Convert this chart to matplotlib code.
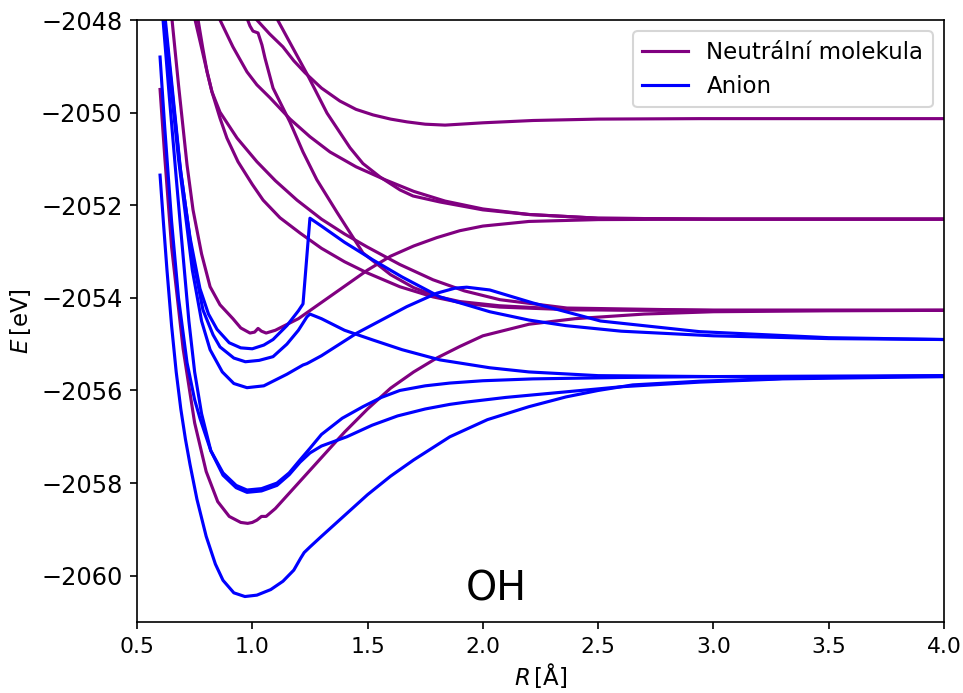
import matplotlib
matplotlib.use("Agg")
import matplotlib.pyplot as plt

# ---------------- neutral molecule (purple) ----------------
N1_R = [0.60,0.621,0.65,0.70,0.75,0.80,0.85,0.90,0.95,0.98,1.00,1.02,1.04,1.06,1.10,1.20,1.30,1.40,1.50,1.60,1.70,1.80,1.90,2.00,2.20,2.40,2.70,3.00,3.50,4.00]
N1_E = [-2049.5,-2051.0,-2052.9,-2055.1,-2056.7,-2057.75,-2058.4,-2058.72,-2058.85,-2058.87,-2058.85,-2058.8,-2058.72,-2058.72,-2058.55,-2058.0,-2057.45,-2056.9,-2056.4,-2055.95,-2055.6,-2055.3,-2055.05,-2054.82,-2054.57,-2054.45,-2054.35,-2054.3,-2054.28,-2054.27]

N2_R = [0.652,0.68,0.717,0.743,0.78,0.817,0.86,0.916,0.95,0.99,1.01,1.025,1.04,1.06,1.10,1.20,1.30,1.40,1.50,1.60,1.70,1.80,1.90,2.00,2.20,2.50,3.00,4.00]
N2_E = [-2048.0,-2049.4,-2051.13,-2052.1,-2053.05,-2053.76,-2054.15,-2054.45,-2054.65,-2054.76,-2054.74,-2054.66,-2054.72,-2054.76,-2054.7,-2054.45,-2054.1,-2053.75,-2053.4,-2053.1,-2052.88,-2052.7,-2052.55,-2052.45,-2052.35,-2052.31,-2052.3,-2052.3]

N3_R = [0.752,0.78,0.804,0.825,0.86,0.89,0.938,1.0,1.047,1.12,1.207,1.30,1.40,1.498,1.64,1.784,1.92,2.074,2.4,3.0,4.0]
N3_E = [-2048.0,-2048.6,-2049.12,-2049.55,-2050.12,-2050.55,-2051.06,-2051.55,-2051.89,-2052.27,-2052.6,-2052.93,-2053.22,-2053.46,-2053.76,-2053.98,-2054.12,-2054.2,-2054.26,-2054.27,-2054.27]

N4_R = [0.765,0.785,0.804,0.825,0.86,0.934,1.02,1.10,1.194,1.30,1.40,1.498,1.64,1.784,1.92,2.074,2.365,3.0,4.0]
N4_E = [-2048.0,-2048.6,-2049.12,-2049.55,-2049.99,-2050.55,-2051.06,-2051.47,-2051.89,-2052.3,-2052.62,-2052.9,-2053.28,-2053.61,-2053.85,-2054.04,-2054.22,-2054.27,-2054.27]

N5_R = [0.86,0.916,0.977,1.02,1.077,1.164,1.25,1.337,1.45,1.576,1.70,1.836,2.0,2.2,2.5,3.0,4.0]
N5_E = [-2048.0,-2048.58,-2049.12,-2049.4,-2049.68,-2050.14,-2050.52,-2050.85,-2051.17,-2051.45,-2051.7,-2051.91,-2052.08,-2052.2,-2052.28,-2052.3,-2052.3]

N6_R = [0.98,0.99,1.003,1.025,1.042,1.055,1.09,1.163,1.22,1.28,1.367,1.48,1.60,1.70,1.80,1.90,2.07,2.3,2.6,3.0,4.0]
N6_E = [-2048.0,-2048.13,-2048.24,-2048.28,-2048.54,-2048.82,-2049.47,-2050.2,-2050.85,-2051.45,-2052.15,-2053.03,-2053.5,-2053.78,-2053.97,-2054.08,-2054.17,-2054.23,-2054.26,-2054.27,-2054.27]

N7_R = [1.11,1.17,1.24,1.324,1.424,1.48,1.554,1.641,1.697,1.814,2.0,2.2,2.5,3.0,4.0]
N7_E = [-2048.0,-2048.55,-2049.19,-2050.01,-2050.76,-2051.1,-2051.39,-2051.67,-2051.8,-2051.93,-2052.1,-2052.2,-2052.28,-2052.3,-2052.3]

N8_R = [1.02,1.075,1.133,1.18,1.229,1.30,1.38,1.45,1.524,1.60,1.671,1.75,1.836,2.0,2.218,2.5,2.94,3.5,4.0]
N8_E = [-2048.0,-2048.3,-2048.58,-2048.88,-2049.14,-2049.47,-2049.75,-2049.93,-2050.05,-2050.14,-2050.2,-2050.25,-2050.27,-2050.22,-2050.17,-2050.14,-2050.13,-2050.13,-2050.13]

# ---------------- anion (blue) ----------------
B1_R = [0.60,0.615,0.63,0.65,0.67,0.69,0.71,0.73,0.76,0.80,0.84,0.873,0.92,0.968,1.02,1.08,1.133,1.18,1.21,1.225,1.25,1.30,1.40,1.50,1.60,1.70,1.857,2.02,2.2,2.36,2.5,2.65,2.94,3.3,3.7,4.0]
B1_E = [-2051.35,-2052.4,-2053.4,-2054.6,-2055.6,-2056.4,-2057.05,-2057.6,-2058.35,-2059.15,-2059.75,-2060.1,-2060.37,-2060.45,-2060.42,-2060.3,-2060.12,-2059.88,-2059.62,-2059.5,-2059.38,-2059.15,-2058.7,-2058.25,-2057.85,-2057.5,-2057.0,-2056.63,-2056.35,-2056.14,-2056.0,-2055.88,-2055.8,-2055.74,-2055.7,-2055.68]

B2_R = [0.60,0.62,0.65,0.68,0.717,0.75,0.773,0.82,0.873,0.93,0.977,1.04,1.107,1.16,1.207,1.25,1.30,1.39,1.48,1.56,1.64,1.75,1.857,2.0,2.217,2.6,3.0,4.0]
B2_E = [-2048.8,-2050.3,-2052.35,-2054.0,-2055.4,-2056.2,-2056.6,-2057.3,-2057.78,-2058.05,-2058.15,-2058.12,-2058.0,-2057.78,-2057.5,-2057.25,-2056.95,-2056.6,-2056.35,-2056.15,-2056.0,-2055.9,-2055.84,-2055.79,-2055.75,-2055.72,-2055.7,-2055.68]

B3_R = [0.613,0.64,0.67,0.70,0.725,0.75,0.78,0.82,0.873,0.93,0.977,1.04,1.107,1.16,1.207,1.25,1.30,1.41,1.52,1.63,1.75,1.857,1.93,2.1,2.36,2.6,2.94,3.3,4.0]
B3_E = [-2048.0,-2049.65,-2051.4,-2053.1,-2054.5,-2055.6,-2056.5,-2057.3,-2057.83,-2058.1,-2058.2,-2058.17,-2058.05,-2057.82,-2057.55,-2057.35,-2057.2,-2057.0,-2056.75,-2056.55,-2056.4,-2056.3,-2056.25,-2056.15,-2056.03,-2055.92,-2055.82,-2055.75,-2055.7]

B4_R = [0.617,0.68,0.74,0.78,0.817,0.87,0.92,0.977,1.05,1.15,1.22,1.237,1.30,1.454,1.67,1.80,1.88,1.93,2.03,2.217,2.51,2.94,3.5,4.0]
B4_E = [-2048.0,-2051.0,-2053.4,-2054.5,-2055.12,-2055.6,-2055.85,-2055.94,-2055.9,-2055.65,-2055.45,-2055.42,-2055.25,-2054.76,-2054.19,-2053.9,-2053.79,-2053.77,-2053.83,-2054.11,-2054.5,-2054.73,-2054.86,-2054.9]

B5_R = [0.62,0.685,0.74,0.786,0.83,0.86,0.92,0.97,1.03,1.09,1.15,1.2,1.237,1.25,1.3,1.4,1.523,1.65,1.814,2.03,2.2,2.5,3.0,4.0]
B5_E = [-2048.0,-2051.1,-2053.1,-2054.26,-2054.8,-2055.06,-2055.3,-2055.38,-2055.35,-2055.27,-2055.0,-2054.7,-2054.41,-2054.35,-2054.45,-2054.7,-2054.91,-2055.12,-2055.34,-2055.51,-2055.6,-2055.68,-2055.7,-2055.7]

B6_R = [0.623,0.69,0.73,0.773,0.81,0.847,0.90,0.95,1.0,1.05,1.09,1.15,1.2,1.22,1.25,1.3,1.4,1.523,1.65,1.814,2.03,2.2,2.36,2.6,3.0,3.5,4.0]
B6_E = [-2048.0,-2051.3,-2052.7,-2053.8,-2054.35,-2054.68,-2054.97,-2055.08,-2055.1,-2055.02,-2054.9,-2054.6,-2054.28,-2054.13,-2052.28,-2052.45,-2052.8,-2053.18,-2053.55,-2053.98,-2054.3,-2054.48,-2054.6,-2054.72,-2054.82,-2054.88,-2054.9]

neutral = [(N1_R, N1_E), (N2_R, N2_E), (N3_R, N3_E), (N4_R, N4_E),
           (N5_R, N5_E), (N6_R, N6_E), (N7_R, N7_E), (N8_R, N8_E)]
anion = [(B1_R, B1_E), (B2_R, B2_E), (B3_R, B3_E), (B4_R, B4_E),
         (B5_R, B5_E), (B6_R, B6_E)]

fig = plt.figure(figsize=(6.42, 4.62), dpi=150)
ax = fig.add_axes([137/963, 71/693, 807/963, 602/693])

for i, (r, e) in enumerate(neutral):
    ax.plot(r, e, color='purple', lw=1.5, label='Neutrální molekula' if i == 0 else None)
for i, (r, e) in enumerate(anion):
    ax.plot(r, e, color='blue', lw=1.5, label='Anion' if i == 0 else None)

ax.set_xlim(0.5, 4.0)
ax.set_ylim(-2061.0, -2048.0)
ax.set_xticks([0.5, 1.0, 1.5, 2.0, 2.5, 3.0, 3.5, 4.0])
ax.set_yticks([-2060, -2058, -2056, -2054, -2052, -2050, -2048])
ax.tick_params(axis='y', labelsize=11.5)
ax.tick_params(axis='x', labelsize=10.5)
ax.set_xlabel(r'$R\,$[Å]', fontsize=11, labelpad=2)
ax.set_ylabel(r'$E\,$[eV]', fontsize=11)
ax.text(2.06, -2060.3, 'OH', fontsize=19, ha='center', va='center')
ax.legend(loc='upper right', fontsize=11)

fig.savefig('out.png', dpi=150)
